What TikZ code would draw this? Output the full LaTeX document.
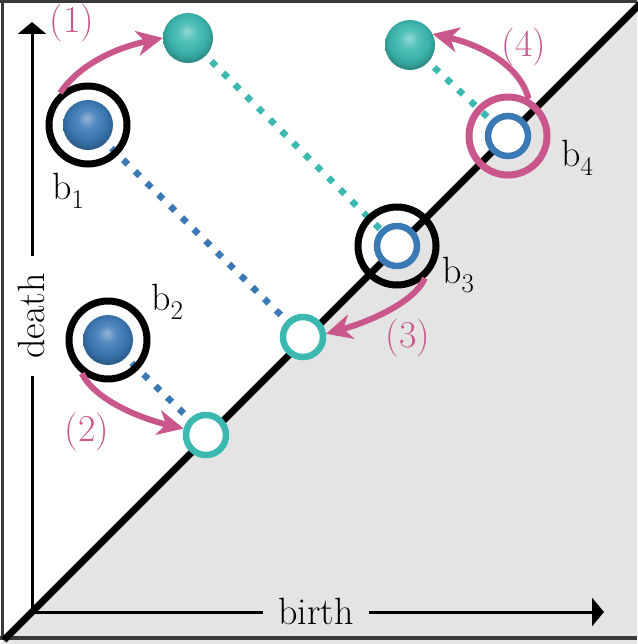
\documentclass[tikz,border=0pt]{standalone}
\usetikzlibrary{arrows.meta}
\definecolor{pinkarr}{HTML}{C9578C}
\definecolor{tealc}{HTML}{3BB9B0}
\definecolor{bluec}{HTML}{3B79B6}
\definecolor{bggray}{HTML}{E4E4E4}
\definecolor{framegray}{HTML}{3A3A3A}
\makeatletter
\pgfdeclareradialshading[tikz@ball]{myball}{\pgfpoint{-1bp}{7bp}}{%
  color(0bp)=(tikz@ball!55!white);
  color(9bp)=(tikz@ball!88!white);
  color(20bp)=(tikz@ball!95!black);
  color(28bp)=(tikz@ball!72!black);
  color(50bp)=(tikz@ball!60!black)}
\makeatother
\newcommand\blab[1]{b\raisebox{-9pt}{\fontsize{27}{30}\selectfont #1}}
\begin{document}
\begin{tikzpicture}[x=1pt,y=-1pt,
  every node/.style={font=\fontsize{38}{44}\selectfont},
  ball/.style={circle, minimum size=50pt, inner sep=0pt, ball color=#1, shading=myball},
  opencirc/.style={circle, minimum size=40pt, inner sep=0pt, line width=6.5pt, fill=white, draw=#1},
  ringc/.style={circle, minimum size=78pt, inner sep=0pt, line width=7pt, draw=#1},
  dotline/.style={line width=6.5pt, dash pattern=on 6.5pt off 10pt, #1},
  move/.style={line width=6pt, pinkarr, -{Stealth[length=26pt, width=25pt, inset=8pt]}},
  axis/.style={line width=3pt, -{Triangle[length=12pt, width=28pt]}},
  lab/.style={inner sep=0pt, anchor=base west},
  numlab/.style={text=pinkarr, inner sep=0pt}
]
\useasboundingbox (0,0) rectangle (637,644);
\fill[white] (0,0) rectangle (637,644);
\fill[bggray] (2,642) -- (642,2) -- (637,0) -- (637,644) -- (0,644) -- cycle;
% frame
\draw[framegray, line width=3pt] (2,0) -- (2,640);
\draw[framegray, line width=3pt] (0,1.5) -- (637,1.5);
\draw[framegray, line width=4pt] (0,638) -- (637,638);
% diagonal
\coordinate (dA) at (4,640);
\coordinate (dB) at (640,4);
\draw[line width=7pt] (dA) -- (dB);
% axes
\coordinate (O) at (32,612);
\coordinate (Ytip) at (32,22);
\coordinate (Xtip) at (604,612);
\draw[axis] (O) -- (Ytip);
\draw[axis] (O) -- (Xtip);
\node[fill=white, rotate=90, inner xsep=17pt, inner ysep=0pt] (death) at (31,316) {death};
\node[fill=bggray, inner xsep=15pt, inner ysep=2pt, anchor=base] (birth) at (316,624) {birth};
% points
\coordinate (s1p) at (188,38);
\coordinate (b1p) at (88,125);
\coordinate (s4p) at (410,45);
\coordinate (b2p) at (108,340);
\coordinate (c3p) at (397,246);
\coordinate (c4p) at (508,136);
\coordinate (t3p) at (303,337);
\coordinate (t2p) at (206,435);
% dotted lines
\draw[dotline=tealc] (s1p) -- (c3p);
\draw[dotline=bluec] (b1p) -- (t3p);
\draw[dotline=bluec] (b2p) -- (t2p);
\draw[dotline=tealc] (s4p) -- (c4p);
% spheres and circles
\node[ball=tealc] (s1) at (s1p) {};
\node[ball=tealc] (s4) at (s4p) {};
\node[ball=bluec] (b1) at (b1p) {};
\node[ball=bluec] (b2) at (b2p) {};
\node[opencirc=bluec] (c3) at (c3p) {};
\node[opencirc=bluec] (c4) at (c4p) {};
\node[opencirc=tealc] (t3) at (t3p) {};
\node[opencirc=tealc] (t2) at (t2p) {};
% rings
\node[ringc=black] (r1) at (b1p) {};
\node[ringc=black] (r2) at (b2p) {};
\node[ringc=black] (r3) at (c3p) {};
\node[ringc=pinkarr] (r4) at (c4p) {};
% arrows
\draw[move] (r1.131) .. controls +(19,-28) and +(-48,10) .. (s1.west);
\draw[move] (r2.232) .. controls +(15,29) and +(-38,-9) .. (t2.164);
\draw[move] (r3.311) .. controls +(-10,24) and +(43,-12) .. (t3.8);
\draw[move] (r4.61) .. controls +(-9,-34) and +(48,11) .. (s4.26);
% labels
\node[numlab] (n1) at (72,23) {(1)};
\node[numlab] (n2) at (87,432) {(2)};
\node[numlab] (n3) at (408,338) {(3)};
\node[numlab] (n4) at (524,47) {(4)};
\node[lab] (l1) at (52,200) {\blab{1}};
\node[lab] (l2) at (151,310) {\blab{2}};
\node[lab] (l3) at (442,283) {\blab{3}};
\node[lab] (l4) at (561,167) {\blab{4}};
\end{tikzpicture}
\end{document}
